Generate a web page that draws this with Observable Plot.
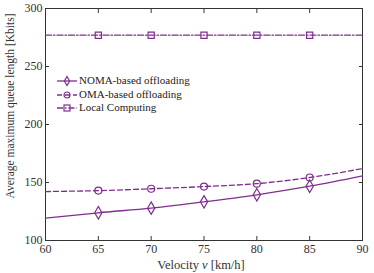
<!DOCTYPE html>
<html><head><meta charset="utf-8">
<script src="https://cdn.jsdelivr.net/npm/d3@7"></script>
<script src="https://cdn.jsdelivr.net/npm/@observablehq/plot@0.6"></script>
<style>
body{margin:0;background:#fff;}
#wrap{position:relative;width:374px;height:273px;font-family:"Liberation Serif","Times New Roman",serif;}
#legend{position:absolute;left:56px;top:74px;font-size:11px;line-height:13.5px;color:#222;}
#legend div{display:flex;align-items:center;white-space:nowrap;}
#legend svg{margin-right:1px;}
svg text{font-family:"Liberation Serif","Times New Roman",serif;}
</style></head><body>
<div id="wrap"><div id="chart"></div><div id="legend"></div></div>
<script>
const velocity = [60, 65, 70, 75, 80, 85, 90];
const markerVelocity = [65, 70, 75, 80, 85];
const noma = [119.2, 123.9, 127.9, 133.3, 139.4, 146.8, 155.8];
const oma = [142.2, 143.0, 144.6, 146.5, 149.0, 154.3, 162.0];
const local = [277, 277, 277, 277, 277, 277, 277];
const xTicks = [60, 65, 70, 75, 80, 85, 90];
const yTicks = [100, 150, 200, 250, 300];
const seriesNames = ["NOMA-based offloading", "OMA-based offloading", "Local Computing"];

const color = "#7E2F8E";
const series = [
  {name: seriesNames[0], vals: noma, dash: null, symbol: "diamond"},
  {name: seriesNames[1], vals: oma, dash: "5,3", symbol: "circle"},
  {name: seriesNames[2], vals: local, dash: "6,2,1.5,2", symbol: "square"}
];
const marks = [];
for (const s of series) {
  const data = velocity.map((v, i) => ({v, y: s.vals[i]}));
  marks.push(Plot.line(data, {x: "v", y: "y", stroke: color, strokeWidth: 1.3, strokeDasharray: s.dash, curve: "monotone-x"}));
  marks.push(Plot.dot(data.filter(d => markerVelocity.includes(d.v)), {x: "v", y: "y", stroke: color, strokeWidth: 1.2, fill: "none", symbol: s.symbol, r: s.symbol === "diamond" ? 3.8 : 3.5}));
}
const ff = '"Liberation Serif","Times New Roman",serif';
const chart = Plot.plot({
  width: 374, height: 273,
  marginLeft: 45, marginRight: 12, marginTop: 8, marginBottom: 33,
  style: {fontFamily: ff, fontSize: "12px", color: "#333"},
  x: {domain: [60, 90], ticks: xTicks},
  y: {domain: [100, 300], ticks: yTicks},
  marks: [
    Plot.frame({stroke: "#333"}),
    Plot.axisX(xTicks, {anchor: "bottom", tickSize: -4, tickPadding: 8, label: null}),
    Plot.axisX(xTicks, {anchor: "top", tickSize: -4, text: null, label: null}),
    Plot.axisY(yTicks, {anchor: "left", tickSize: -4, tickPadding: 7, label: null}),
    Plot.axisY(yTicks, {anchor: "right", tickSize: -4, text: null, label: null}),
    ...marks
  ]
});
document.getElementById("chart").appendChild(chart);
const svg = d3.select(chart);
svg.append("text").attr("x", 201).attr("y", 269).attr("text-anchor", "middle")
  .attr("font-size", 12.5).attr("fill", "#333")
  .html('Velocity <tspan font-style="italic">v</tspan> [km/h]');
svg.append("text").attr("transform", "translate(14,106) rotate(-90)").attr("text-anchor", "middle")
  .attr("font-size", 11.5).attr("fill", "#333").text("Average maximum queue length [Kbits]");

const leg = document.getElementById("legend");
const sym = {
  diamond: '<path d="M11,2.5 L13.6,7 L11,11.5 L8.4,7Z" fill="none" stroke="'+color+'" stroke-width="1.2"/>',
  circle: '<circle cx="11" cy="7" r="3" fill="none" stroke="'+color+'" stroke-width="1.2"/>',
  square: '<rect x="8" y="4" width="6" height="6" fill="none" stroke="'+color+'" stroke-width="1.2"/>'
};
series.forEach(s => {
  const d = document.createElement("div");
  d.innerHTML = '<svg width="22" height="13"><line x1="1" x2="21" y1="7" y2="7" stroke="'+color+'" stroke-width="1.3"' + (s.dash ? ' stroke-dasharray="'+s.dash+'"' : '') + '/>' + sym[s.symbol] + '</svg><span>' + s.name + '</span>';
  leg.appendChild(d);
});
</script></body></html>
